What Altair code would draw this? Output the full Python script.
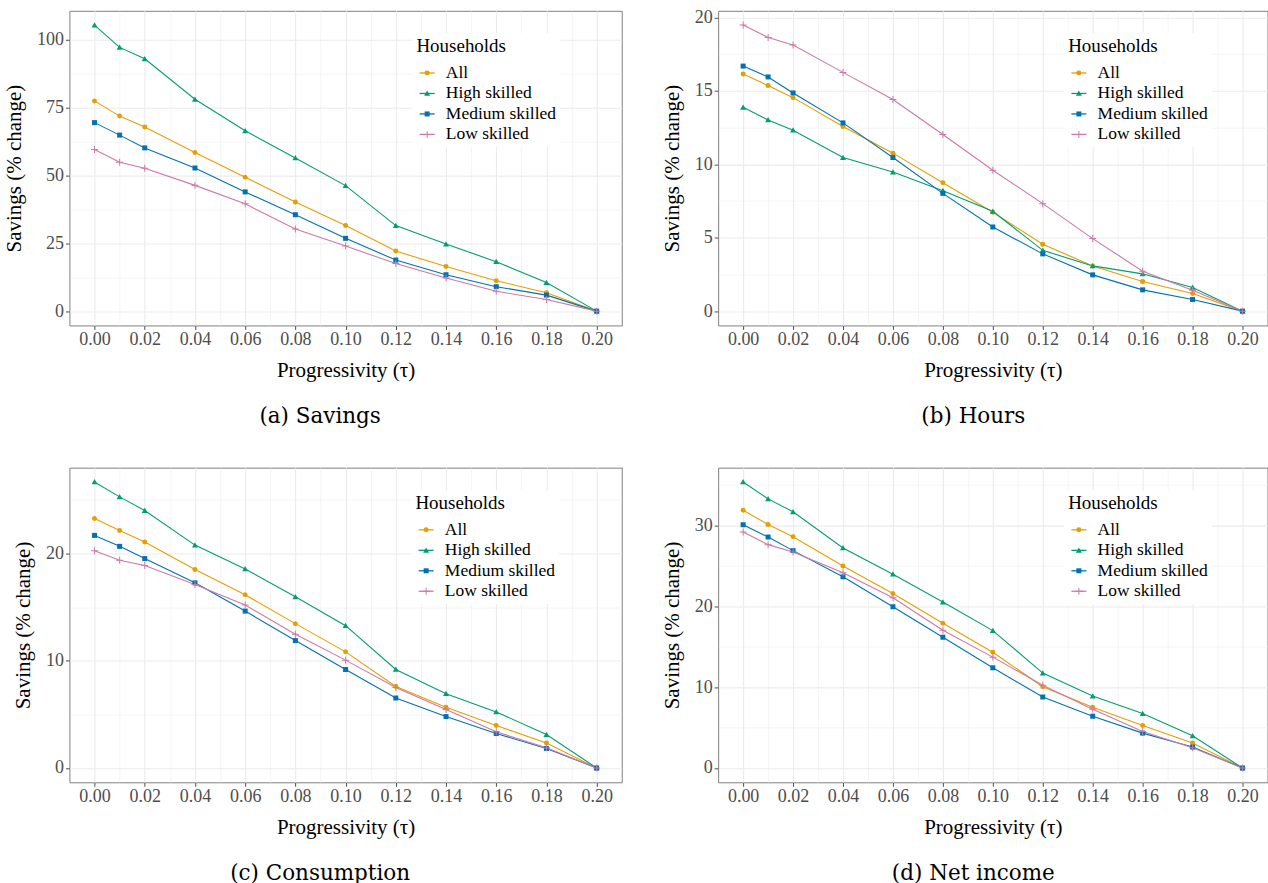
import altair as alt
import pandas as pd

# ---------------- data ----------------
TAU = [0.00, 0.01, 0.02, 0.04, 0.06, 0.08, 0.10, 0.12, 0.14, 0.16, 0.18, 0.20]
SERIES = ["All", "High skilled", "Medium skilled", "Low skilled"]

SAV_ALL = [77.4, 71.8, 67.8, 58.4, 49.3, 40.2, 31.5, 22.1, 16.4, 11.2, 6.8, 0.0]
SAV_HIGH = [105.3, 97.1, 92.9, 78.0, 66.4, 56.4, 46.2, 31.5, 24.7, 18.2, 10.5, 0.0]
SAV_MED = [69.4, 64.8, 60.1, 52.7, 43.9, 35.5, 26.8, 18.8, 13.4, 9.0, 5.9, 0.0]
SAV_LOW = [59.5, 54.8, 52.6, 46.3, 39.5, 30.2, 24.0, 17.5, 12.2, 7.3, 4.3, 0.0]

HRS_ALL = [16.15, 15.36, 14.54, 12.57, 10.76, 8.74, 6.73, 4.55, 3.08, 2.02, 1.20, 0.0]
HRS_HIGH = [13.88, 13.02, 12.32, 10.46, 9.47, 8.20, 6.80, 4.14, 3.08, 2.54, 1.61, 0.0]
HRS_MED = [16.69, 15.95, 14.86, 12.82, 10.46, 8.02, 5.73, 3.90, 2.47, 1.45, 0.79, 0.0]
HRS_LOW = [19.48, 18.64, 18.12, 16.26, 14.41, 12.03, 9.60, 7.32, 4.94, 2.72, 1.43, 0.0]

CON_ALL = [23.25, 22.13, 21.05, 18.49, 16.14, 13.45, 10.82, 7.60, 5.66, 3.96, 2.32, 0.0]
CON_HIGH = [26.65, 25.26, 23.99, 20.77, 18.55, 15.95, 13.26, 9.18, 6.92, 5.22, 3.12, 0.0]
CON_MED = [21.67, 20.65, 19.51, 17.25, 14.62, 11.87, 9.18, 6.52, 4.79, 3.21, 1.82, 0.0]
CON_LOW = [20.25, 19.35, 18.86, 17.09, 15.18, 12.46, 10.05, 7.51, 5.44, 3.37, 1.89, 0.0]

NET_ALL = [31.88, 30.12, 28.60, 24.99, 21.58, 17.89, 14.32, 10.05, 7.51, 5.25, 3.08, 0.0]
NET_HIGH = [35.37, 33.28, 31.68, 27.21, 23.96, 20.52, 16.99, 11.74, 8.90, 6.73, 3.98, 0.0]
NET_MED = [30.08, 28.56, 26.88, 23.64, 19.94, 16.17, 12.39, 8.78, 6.40, 4.31, 2.59, 0.0]
NET_LOW = [29.18, 27.62, 26.71, 24.13, 21.05, 17.03, 13.71, 10.22, 7.26, 4.51, 2.50, 0.0]

X_TICKS = [0.00, 0.01, 0.02, 0.03, 0.04, 0.05, 0.06, 0.07, 0.08, 0.09, 0.10,
           0.11, 0.12, 0.13, 0.14, 0.15, 0.16, 0.17, 0.18, 0.19, 0.20]

SAV_MAJOR = [0, 25, 50, 75, 100]
SAV_MINOR = [12.5, 37.5, 62.5, 87.5]
HRS_MAJOR = [0, 5, 10, 15, 20]
HRS_MINOR = [2.5, 7.5, 12.5, 17.5]
CON_MAJOR = [0, 10, 20]
CON_MINOR = [5, 15, 25]
NET_MAJOR = [0, 10, 20, 30]
NET_MINOR = [5, 15, 25, 35]

# ---------------- style ----------------
COLORS = ["#E69F00", "#009E73", "#0072B2", "#CC79A7"]
SHAPES = [
    "circle",
    "M0,-1.15L1.2,0.95L-1.2,0.95Z",
    "square",
    "M-1.4,-0.2L1.4,-0.2L1.4,0.2L-1.4,0.2Z M-0.2,-1.4L0.2,-1.4L0.2,1.4L-0.2,1.4Z",
]
FONT = "Liberation Serif"
CAP_FONT = "DejaVu Serif"
PANEL_H = 315


def long_df(a, h, m, l):
    rows = []
    for k, (name, vals) in enumerate(zip(SERIES, [a, h, m, l])):
        for t, v in zip(TAU, vals):
            rows.append({"tau": t, "value": v, "series": name, "k": k})
    return pd.DataFrame(rows)


def legend(lx, ly, points):
    common = dict(
        orient="none", legendX=lx, legendY=ly, title="Households",
        titleFont=FONT, titleFontSize=19, titleFontWeight="normal",
        titlePadding=8, labelFont=FONT, labelFontSize=17.5,
        labelOffset=10, symbolOffset=2, rowPadding=1.5, padding=4,
    )
    if points:
        return alt.Legend(titleColor="transparent", labelColor="transparent",
                          symbolSize=25, symbolStrokeWidth=0, symbolOpacity=1,
                          **common)
    return alt.Legend(titleColor="black", labelColor="black", symbolType="stroke",
                      symbolSize=225, symbolStrokeWidth=1.3, fillColor="white",
                      **common)


def panel(df, caption, y_major, y_minor, width, lx, cap_dx):
    vmax = float(df["value"].max())
    ydom = [-0.05 * vmax, 1.05 * vmax]
    ytest = " || ".join(f"datum.value == {v}" for v in y_major)
    xtest = "abs(datum.value*50 - round(datum.value*50)) < 0.000001"
    x_axis = alt.Axis(
        values=X_TICKS, title="Progressivity (τ)", labelFlush=False,
        labelExpr=f"({xtest}) ? format(datum.value, '.2f') : ''",
        gridWidth={"condition": {"test": xtest, "value": 1.1}, "value": 0.55},
        tickOpacity={"condition": {"test": xtest, "value": 1}, "value": 0},
        labelPadding=1, titlePadding=11.5,
    )
    y_axis = alt.Axis(
        values=sorted(y_major + y_minor), title="Savings (% change)",
        labelExpr=f"({ytest}) ? datum.label : ''",
        gridWidth={"condition": {"test": ytest, "value": 1.1}, "value": 0.55},
        tickOpacity={"condition": {"test": ytest, "value": 1}, "value": 0},
        labelPadding=2, titlePadding=11.5,
    )
    x = alt.X("tau:Q", scale=alt.Scale(domain=[-0.01, 0.21], nice=False, zero=False), axis=x_axis)
    y = alt.Y("value:Q", scale=alt.Scale(domain=ydom, nice=False, zero=False), axis=y_axis)
    base = alt.Chart(df)
    lines = base.mark_line(strokeWidth=1.1).encode(
        x=x, y=y,
        stroke=alt.Stroke("series:N", scale=alt.Scale(domain=SERIES, range=COLORS),
                          legend=legend(lx, 22.5, False)),
        order=alt.Order("tau:Q"),
    )
    srt = alt.EncodingSortField(field="k", op="min")
    pts = base.mark_point(filled=True, size=25, opacity=1, strokeWidth=0).encode(
        x=x, y=y,
        fill=alt.Fill("series:N", sort=srt, scale=alt.Scale(range=COLORS),
                      legend=legend(lx, 22.5, True)),
        shape=alt.Shape("series:N", sort=srt, scale=alt.Scale(range=SHAPES),
                        legend=legend(lx, 22.5, True)),
    )
    return alt.layer(lines, pts).properties(
        width=width, height=PANEL_H,
        title=alt.TitleParams(text=caption, orient="bottom", anchor="middle",
                              frame="group", font=CAP_FONT, fontSize=21.5,
                              fontWeight="normal", color="black", offset=25, dx=cap_dx),
    )


pa = panel(long_df(SAV_ALL, SAV_HIGH, SAV_MED, SAV_LOW), "(a) Savings",
           SAV_MAJOR, SAV_MINOR, 553, 343.4, -25.5)
pb = panel(long_df(HRS_ALL, HRS_HIGH, HRS_MED, HRS_LOW), "(b) Hours",
           HRS_MAJOR, HRS_MINOR, 550, 346.4, -19.5)
pc = panel(long_df(CON_ALL, CON_HIGH, CON_MED, CON_LOW), "(c) Consumption",
           CON_MAJOR, CON_MINOR, 553, 342.4, -25.5)
pd_ = panel(long_df(NET_ALL, NET_HIGH, NET_MED, NET_LOW), "(d) Net income",
            NET_MAJOR, NET_MINOR, 550, 346.4, -19.5)

IND = dict(stroke="independent", fill="independent", shape="independent")

chart = (
    alt.concat(pa, pb, pc, pd_, columns=2, spacing={"row": 38.4, "column": 38.5})
    .resolve_scale(x="independent", y="independent", **IND)
    .resolve_legend(**IND)
    .properties(
        padding={"left": 3.5, "top": 7.3, "right": 0, "bottom": 0},
        background="white",
    )
    .configure_view(stroke="#808080", strokeWidth=1)
    .configure_axis(
        domain=False, grid=True, gridColor="#EBEBEB", tickColor="#4D4D4D",
        tickSize=4, tickWidth=1, labelFont=FONT, labelFontSize=18,
        labelColor="#4D4D4D", titleFont=FONT, titleFontSize=21,
        titleFontWeight="normal", titleColor="black",
    )
)

chart.save("out.html", embed_options={"renderer": "svg", "actions": False})
